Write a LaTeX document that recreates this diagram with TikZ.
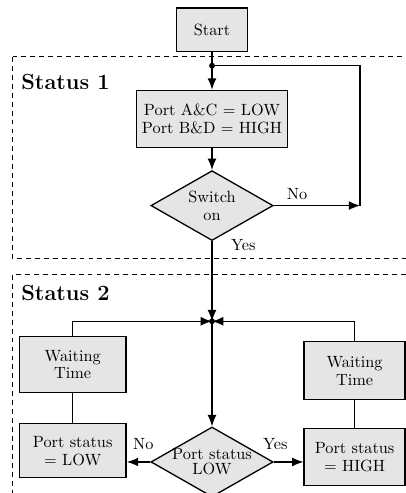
\documentclass[tikz,border=0pt]{standalone}
\usetikzlibrary{arrows.meta,positioning,shapes.geometric}

\newcommand{\dline}[1]{\makebox[0pt]{#1}}

\begin{document}
\begin{tikzpicture}[>={Latex[length=7pt,width=5.5pt]},thick,
                    node distance=1cm]
  \tikzset{block/.style={draw, rectangle, fill=gray!20, align=center,
                         font=\fontsize{10pt}{11pt}\selectfont},
           decision/.style={draw, diamond, fill=gray!20, align=center,
                            inner sep=0pt, aspect=1.77,
                            minimum width=2.64cm, minimum height=1.51cm},
           statuslabel/.style={anchor=west, font=\fontsize{13.4pt}{15pt}\selectfont\bfseries},
           statusbox/.style={draw, semithick, dash pattern=on 3pt off 2.5pt}}
  \useasboundingbox (0,0) rectangle (8.77,-10.65);

 % Status 1
 \draw[statusbox] (0.28,-1.23) rectangle (9.4,-5.59);
 \node[statuslabel] (status1) at (0.33,-1.77) {Status 1};

 \node[block, minimum width=1.53cm, minimum height=0.93cm](start) at (4.58,-0.64) {Start};
 \coordinate[below=0.30cm of start] (loop);
 \coordinate[right=3.2cm of loop] (back);
 \node[block, below=0.82cm of start, minimum width=3.24cm, minimum height=1.23cm](init)
      {Port A\&C = LOW\\Port B\&D = HIGH};
 \node[decision, below=0.475cm of init, font=\fontsize{10pt}{11pt}\selectfont](switch)
      {\dline{Switch}\\\dline{on}};

 % Status 2
 \draw[statusbox] (0.26,-5.94) rectangle (9.4,-11.2);
 \node[statuslabel] (status2) at (0.33,-6.33) {Status 2};

 \coordinate[below=1.73cm of switch] (merge);
 \node[decision, below=2.27cm of merge, font=\fontsize{10pt}{9.2pt}\selectfont](portchk)
      {\dline{Port status}\\\dline{LOW}};

 \node[block, below=0.32cm of merge, xshift=-3.01cm, minimum width=2.31cm, minimum height=1.2cm](wait_low)
      {Waiting\\Time};
 \node[block, below=0.65cm of wait_low, minimum width=2.31cm, minimum height=1.17cm](ps_low)
      {Port status\\= LOW};
 \node[block, below=0.43cm of merge, xshift=3.08cm, minimum width=2.18cm, minimum height=1.25cm](wait_high)
      {Waiting\\Time};
 \node[block, below=0.6cm of wait_high, minimum width=2.18cm, minimum height=1.23cm](ps_high)
      {Port status\\= HIGH};

 % connectors
 \draw[->] (start) -- (init);
 \draw[->] (init) -- (switch);
 \draw[->] (switch) -- node[above, pos=0.27]{No} (switch.east -| back);
 \draw (switch.east -| back) -- (back) -- (loop);
 \draw[->] (switch) -- node[right, pos=0.05, xshift=8pt]{Yes} (merge);
 \draw[->] (merge) -- (portchk);
 \draw[->] (wait_low) |- (merge);
 \draw[->] (wait_high) |- (merge);
 \draw (wait_low) -- (ps_low);
 \draw (wait_high) -- (ps_high);
 \draw[->] (portchk) -- node[above, pos=0.3, yshift=4pt]{No} (portchk.west -| ps_low.east);
 \draw[->] (portchk) -- node[above, pos=0.05, yshift=4pt]{Yes} (portchk.east -| ps_high.west);

 \fill (loop) circle (1.8pt);
 \fill (merge) circle (1.8pt);

\end{tikzpicture}
\end{document}
